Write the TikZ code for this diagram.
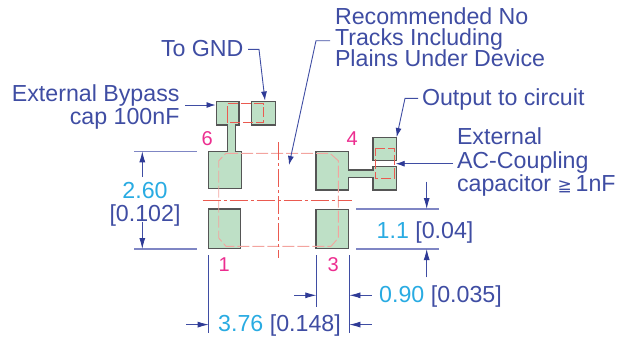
\documentclass[tikz,border=0pt]{standalone}
\usepackage{fontspec}
\setmainfont{Liberation Sans}
\newfontfamily\symfont{DejaVu Sans}
\usetikzlibrary{arrows.meta}
\definecolor{navy}{HTML}{3F4DA3}
\definecolor{arrowblue}{HTML}{2E3A96}
\definecolor{extblue}{HTML}{7F86C4}
\definecolor{cyanlbl}{HTML}{29ABE2}
\definecolor{pink}{HTML}{EC2D8F}
\definecolor{padgreen}{HTML}{BEE0C6}
\definecolor{padedge}{HTML}{555555}
\definecolor{redline}{HTML}{EA5A50}
\tikzset{
  lbl/.style={font=\fontsize{23.2}{23.2}\selectfont,text=navy,inner sep=0pt,outer sep=0pt},
  val/.style={font=\fontsize{23.2}{23.2}\selectfont,text=cyanlbl,inner sep=0pt,outer sep=0pt},
  pin/.style={font=\fontsize{20}{20}\selectfont,text=pink,inner sep=0pt,outer sep=0pt,anchor=base},
  pad/.style={fill=padgreen,draw=padedge,line width=1.4pt,line join=miter},
  smalloutline/.style={draw=redline,line width=0.9pt,dash pattern=on 10pt off 3pt},
  outline/.style={draw=redline!55,line width=0.9pt,dash pattern=on 12pt off 3pt},
  center/.style={draw=redline,line width=0.8pt,dash pattern=on 18pt off 3pt on 3pt off 3pt},
  ext/.style={draw=extblue,line width=1.1pt},
  vext/.style={draw=navy,line width=0.8pt},
  leader/.style={draw=navy,line width=0.9pt,-{Latex[length=9pt,width=6pt,color=arrowblue]}},
  dimarrow/.style={draw=navy,line width=0.8pt,-{Latex[length=11pt,width=6pt,color=arrowblue]}}
}
\begin{document}
\begin{tikzpicture}[x=1pt,y=-1pt]
\useasboundingbox (0,0) rectangle (621,338);
% pads
\draw[pad] (216.3,101.7) -- (239,101.7) -- (239,125) -- (235.3,125) -- (235.3,151.7) -- (241.7,151.7) -- (241.7,188.3) -- (208.7,188.3) -- (208.7,151.7) -- (227.3,151.7) -- (227.3,125) -- (216.3,125) -- cycle;
\draw[pad] (251.3,101.3) rectangle (275.3,125);
\draw[pad] (316,151.3) -- (348.7,151.3) -- (348.7,170) -- (373,170) -- (373,166.3) -- (396.7,166.3) -- (396.7,190) -- (373,190) -- (373,177.7) -- (348.7,177.7) -- (348.7,190) -- (316,190) -- cycle;
\draw[pad] (373,137.7) rectangle (396.7,160.3);
\draw[pad] (208.7,209) rectangle (240.7,248.7);
\draw[pad] (316,209.3) rectangle (348.7,248.7);
% red outlines
\draw[smalloutline] (227,116) -- (227,103.7) -- (263.3,103.7) -- (263.3,122.7) -- (227,122.7) -- cycle;
\draw[smalloutline] (375,148.7) -- (394.3,148.7) -- (394.3,178.3) -- (375,178.3) -- cycle;
\draw[outline] (226,153.3) -- (330,153.3) -- (338.3,160.7) -- (338.3,238) -- (331,246.3) -- (226,246.3) -- (218.7,238) -- (218.7,160.7) -- cycle;
\draw[center] (278.3,142) -- (278.3,258);
\draw[center] (202.7,200) -- (352.3,200);
% extension lines
\coordinate (w1) at (134,151.3); \coordinate (w2) at (196.7,151.3);
\coordinate (w3) at (134,249); \coordinate (w4) at (196.7,249);
\draw[ext] (w1) -- (w2); \draw[ext] (w3) -- (w4);
\coordinate (h1) at (356,209); \coordinate (h2) at (439.3,209);
\coordinate (h3) at (356,249); \coordinate (h4) at (439.3,249);
\draw[ext] (h1) -- (h2); \draw[ext,line width=1.4pt] (h3) -- (h4);
\coordinate (v1a) at (208.7,255); \coordinate (v1b) at (208.7,333);
\coordinate (v3a) at (316.3,255); \coordinate (v3b) at (316.3,307);
\coordinate (v4a) at (349.4,255); \coordinate (v4b) at (349.4,333);
\draw[vext] (v1a) -- (v1b); \draw[vext] (v3a) -- (v3b); \draw[vext] (v4a) -- (v4b);
% dimension arrows
\coordinate (a1) at (142.3,177); \coordinate (a1t) at (142.3,151.3);
\coordinate (a2) at (142.3,221.7); \coordinate (a2t) at (142.3,249);
\draw[dimarrow] (a1) -- (a1t); \draw[dimarrow] (a2) -- (a2t);
\coordinate (b1) at (426.7,181.7); \coordinate (b1t) at (426.7,209);
\coordinate (b2) at (426.7,277.3); \coordinate (b2t) at (426.7,249);
\draw[dimarrow] (b1) -- (b1t); \draw[dimarrow] (b2) -- (b2t);
\coordinate (c1) at (294,295.3); \coordinate (c1t) at (316.3,295.3);
\coordinate (c2) at (371.7,295.3); \coordinate (c2t) at (349.4,295.3);
\draw[dimarrow] (c1) -- (c1t); \draw[dimarrow] (c2) -- (c2t);
\coordinate (d1) at (186,324.6); \coordinate (d1t) at (208.7,324.6);
\coordinate (d2) at (371.7,324.6); \coordinate (d2t) at (349.4,324.6);
\draw[dimarrow] (d1) -- (d1t); \draw[dimarrow] (d2) -- (d2t);
% labels
\node[lbl,anchor=base west] (gnd) at (161,56) {To GND};
\node[lbl,anchor=base east] (byp1) at (179.5,101.5) {External Bypass};
\node[lbl,anchor=base east] (byp2) at (179.5,124) {cap 100nF};
\node[lbl,anchor=base west] (rec1) at (335,24) {Recommended No};
\node[lbl,anchor=base west] (rec2) at (335,45) {Tracks Including};
\node[lbl,anchor=base west] (rec3) at (335,66) {Plains Under Device};
\node[lbl,anchor=base west] (out) at (422,105) {Output to circuit};
\node[lbl,anchor=base west] (ac1) at (457,144) {External};
\node[lbl,anchor=base west] (ac2) at (457,168.3) {AC-Coupling};
\node[lbl,anchor=base west] (ac3) at (457,191.7) {capacitor {\symfont\fontsize{17}{17}\selectfont ≧}\,1nF};
\node[val,anchor=base] (v260) at (145,198.7) {2.60};
\node[lbl,anchor=base] (v102) at (145,221.7) {[0.102]};
\node[anchor=base west,inner sep=0pt] (v11) at (376.5,238.3) {\fontsize{23.2}{23.2}\selectfont\textcolor{cyanlbl}{1.1}~\textcolor{navy}{[0.04]}};
\node[anchor=base west,inner sep=0pt] (v090) at (379,302.7) {\fontsize{23.2}{23.2}\selectfont\textcolor{cyanlbl}{0.90}~\textcolor{navy}{[0.035]}};
\node[anchor=base west,inner sep=0pt] (v376) at (218,331.7) {\fontsize{23.2}{23.2}\selectfont\textcolor{cyanlbl}{3.76}~\textcolor{navy}{[0.148]}};
\node[pin] (p6) at (207.3,145) {6};
\node[pin] (p4) at (352.3,145) {4};
\node[pin] (p1) at (224.3,271.7) {1};
\node[pin] (p3) at (333.3,271.7) {3};
% leaders
\coordinate (gndpad) at (265,100.5);
\draw[leader] (248,49.3) -- (259,49.3) -- (gndpad);
\coordinate (bypad) at (215.5,105);
\draw[leader] (185,105) -- (bypad);
\coordinate (rectip) at (289,165);
\draw[leader] (330,40.7) -- (316,40.7) -- (rectip);
\coordinate (outpad) at (396.7,137);
\draw[leader] (418,98.3) -- (405,98.3) -- (outpad);
\coordinate (acpad) at (395.7,163.7);
\draw[leader] (453,163.7) -- (acpad);
\end{tikzpicture}
\end{document}
